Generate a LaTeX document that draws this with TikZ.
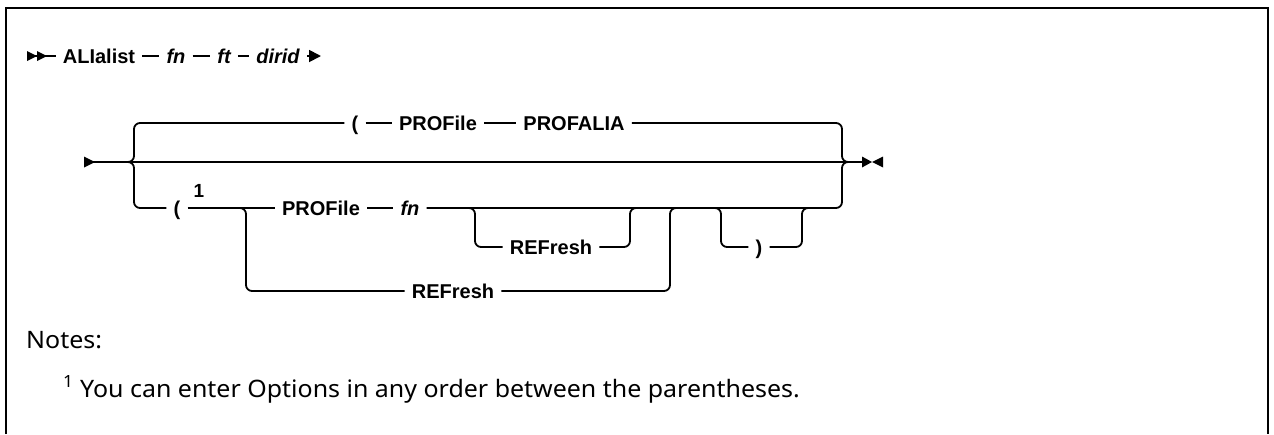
\documentclass[tikz,border=0pt]{standalone}
\usepackage{fontspec}
\setmainfont{Liberation Sans}
\newfontfamily\notefont[FakeStretch=1.04]{Noto Sans}
\usetikzlibrary{arrows.meta}

\newcommand{\kwsize}{\fontsize{20}{24}\selectfont\bfseries}

\begin{document}
\begin{tikzpicture}[x=1pt,y=1pt,yscale=-1,xscale=1,
  kw/.style={font=\kwsize, inner xsep=7pt, inner ysep=0pt, text height=14pt, text depth=0pt},
  var/.style={kw, font=\kwsize\itshape},
  rail/.style={line width=1.8pt, rounded corners=6pt},
  tip/.style={fill=black, draw=none}]
\useasboundingbox (0,0) rectangle (1274,434);
\draw [line width=2.5pt] (6,434) -- (6,8) -- (1268,8) -- (1268,434);
% first line
\coordinate (top) at (27,56);
\coordinate (eol) at (321,56);
\node [kw] (cmd) at (99,56) {ALIalist};
\node [var] (fn1) at (176,56) {fn};
\node [var] (ft) at (224,56) {ft};
\node [var] (dirid) at (278,56) {dirid};
\draw [rail] (top) -- (cmd);
\draw [rail] (cmd) -- (fn1);
\draw [rail] (fn1) -- (ft);
\draw [rail] (ft) -- (dirid);
\draw [rail, -{Triangle[length=12pt,width=12pt]}] (dirid) -- (eol);
\filldraw [tip] (27,51) -- (37,56) -- (27,61) -- cycle;
\filldraw [tip] (37,51) -- (47,56) -- (37,61) -- cycle;
% options
\coordinate (mstart) at (84,162);
\coordinate (bl) at (127,162);
\coordinate (br) at (852,162);
\coordinate (mend) at (862,162);
\draw [rail] (mstart) -- (bl) -- (br) -- (mend);
\filldraw [tip] (84,156.5) -- (95,162) -- (84,167.5) -- cycle;
\filldraw [tip] (862,156.5) -- (872,162) -- (862,167.5) -- cycle;
\filldraw [tip] (883,156.5) -- (872,162) -- (883,167.5) -- cycle;
% default
\node [kw] (lp1) at (355,123) {(};
\node [kw] (prof1) at (438,123) {PROFile};
\node [kw] (profalia) at (574,123) {PROFALIA};
\draw [rail] (bl) -- ++(7,0) |- (lp1);
\draw [rail] (lp1) -- (prof1);
\draw [rail] (prof1) -- (profalia);
\draw [rail] (profalia) -| ([xshift=-10pt]br) -- (br);
% given
\node [kw] (lp2) at (177,208) {(};
\node [font=\fontsize{19}{22}\selectfont\bfseries, inner sep=0pt] (note1) at (199,191) {1};
\node [kw] (prof2) at (321,208) {PROFile};
\node [var] (fn2) at (410,208) {fn};
\node [kw] (ref1) at (551,247) {REFresh};
\node [kw] (ref2) at (453,291) {REFresh};
\node [kw] (rp) at (759,247) {)};
\coordinate (s1) at (238,208);
\coordinate (o1s) at (465,208);
\coordinate (o1e) at (638,208);
\coordinate (o2e) at (678,208);
\coordinate (o3s) at (712,208);
\coordinate (o3e) at (810,208);
\draw [rail] (bl) -- ++(7,0) |- (lp2);
\draw [rail] (lp2) -- (prof2);
\draw [rail] (prof2) -- (fn2);
\draw [rail] (fn2) -| ([xshift=-10pt]br) -- (br);
\draw [rail] (o1s) -- ++(10,0) |- (ref1);
\draw [rail] (ref1) -| ([xshift=-8pt]o1e) -- (o1e);
\draw [rail] (s1) -- ++(8,0) |- (ref2);
\draw [rail] (ref2) -| ([xshift=-8pt]o2e) -- (o2e);
\draw [rail] (o3s) -- ++(9,0) |- (rp);
\draw [rail] (rp) -| ([xshift=-8pt]o3e) -- (o3e);
% notes
\node [font=\notefont\fontsize{24}{28}\selectfont, anchor=base west, inner sep=0pt] (notes) at (26,348) {Notes:};
\node [font=\notefont\fontsize{24}{28}\selectfont, anchor=base west, inner sep=0pt] (note) at (63,397) {\textsuperscript{1} You can enter Options in any order between the parentheses.};
\end{tikzpicture}
\end{document}
